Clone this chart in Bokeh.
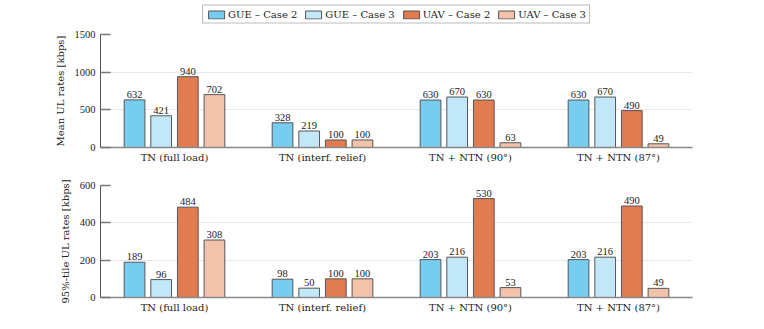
from bokeh.plotting import figure
from bokeh.models import (FactorRange, Range1d, Legend, LegendItem, FixedTicker,
                          ColumnDataSource)
from bokeh.transform import dodge
from bokeh.layouts import column
from bokeh.core.properties import value
from bokeh.embed import file_html
from bokeh.resources import INLINE

categories = ["TN (full load)", "TN (interf. relief)", "TN + NTN (90°)", "TN + NTN (87°)"]
series_names = ["GUE – Case 2", "GUE – Case 3", "UAV – Case 2", "UAV – Case 3"]

mean_gue_c2 = [632, 328, 630, 630]
mean_gue_c3 = [421, 219, 670, 670]
mean_uav_c2 = [940, 100, 630, 490]
mean_uav_c3 = [702, 100, 63, 49]

p95_gue_c2 = [189, 98, 203, 203]
p95_gue_c3 = [96, 50, 216, 216]
p95_uav_c2 = [484, 100, 530, 490]
p95_uav_c3 = [308, 100, 53, 49]

mean_ticks = [0, 500, 1000, 1500]
p95_ticks = [0, 200, 400, 600]

colors = ["#77CDF0", "#C2E7F8", "#E07C50", "#F2C2AB"]
offsets = [-0.27, -0.09, 0.09, 0.27]
WORD_FONT = "DejaVu Serif"
NUM_FONT = "Liberation Serif"
LEFT = 100
RIGHT = 10
WIDTH = LEFT + 592 + RIGHT


def make_fig(series, ymax, ticks, ylabel, height, top, bottom):
    p = figure(x_range=FactorRange(*categories, range_padding=0),
               y_range=Range1d(0, ymax),
               width=WIDTH, height=height,
               min_border_left=LEFT, min_border_right=RIGHT,
               min_border_top=top, min_border_bottom=bottom,
               output_backend="svg", toolbar_location=None)
    p.outline_line_color = None
    p.background_fill_color = "white"
    p.xgrid.grid_line_color = None
    p.ygrid.grid_line_color = "#e8e8e8"
    p.ygrid.grid_line_width = 1
    p.yaxis.ticker = FixedTicker(ticks=ticks)
    p.yaxis.axis_label = ylabel
    p.yaxis.axis_label_text_font = WORD_FONT
    p.yaxis.axis_label_text_font_size = "10px"
    p.yaxis.axis_label_text_font_style = "normal"
    p.yaxis.axis_label_text_color = "#222"
    p.yaxis.axis_label_standoff = 6
    p.yaxis.major_label_text_font = NUM_FONT
    p.yaxis.major_label_text_font_size = "10.5px"
    p.yaxis.major_label_text_color = "#222"
    p.yaxis.major_label_standoff = 5
    p.yaxis.major_tick_in = 10
    p.yaxis.major_tick_out = 0
    p.yaxis.major_tick_line_color = "#777"
    p.yaxis.major_tick_line_width = 1.5
    p.yaxis.minor_tick_line_color = None
    p.yaxis.axis_line_color = "#555"
    p.xaxis.axis_line_color = "#888"
    p.xaxis.axis_line_width = 1.5
    p.xaxis.major_tick_line_color = None
    p.xaxis.major_label_text_font = WORD_FONT
    p.xaxis.major_label_text_font_size = "10px"
    p.xaxis.major_label_text_color = "#222"
    p.xaxis.major_label_standoff = -2

    for i, vals in enumerate(series):
        src = ColumnDataSource(dict(cat=categories, val=vals,
                                    lab=[str(v) for v in vals]))
        p.vbar(x=dodge("cat", offsets[i], range=p.x_range), top="val",
               width=0.14, source=src, fill_color=colors[i],
               line_color="#555", line_width=1)
        p.text(x=dodge("cat", offsets[i], range=p.x_range), y="val", text="lab",
               source=src, text_align="center", text_baseline="bottom",
               y_offset=-2, text_font=value(NUM_FONT), text_font_size="10.5px",
               text_color="#222")
    return p


# legend strip (its bars sit outside the visible range; only the legend shows)
p0 = figure(width=WIDTH, height=28, x_range=Range1d(0, 1), y_range=Range1d(0, 1),
            min_border_left=LEFT, min_border_right=RIGHT, min_border_top=0,
            min_border_bottom=0, output_backend="svg", toolbar_location=None)
p0.axis.visible = False
p0.grid.visible = False
p0.outline_line_color = None
items = []
for i in range(4):
    r = p0.vbar(x=[-5], top=[0], width=0.1, fill_color=colors[i],
                line_color="#555", line_width=1)
    items.append(LegendItem(label=series_names[i], renderers=[r]))
lg = Legend(items=items, orientation="horizontal", location="center",
            glyph_width=20, glyph_height=10, label_height=10,
            label_standoff=2, spacing=6, padding=3, margin=0,
            label_text_font=WORD_FONT, label_text_font_size="10px",
            label_text_color="#222", border_line_color="#777",
            border_line_width=1, background_fill_alpha=1)
p0.add_layout(lg, "center")

p1 = make_fig([mean_gue_c2, mean_gue_c3, mean_uav_c2, mean_uav_c3], 1500,
              mean_ticks, "Mean UL rates [kbps]", 139, 6, 20)
p2 = make_fig([p95_gue_c2, p95_gue_c3, p95_uav_c2, p95_uav_c3], 600,
              p95_ticks, "95%-tile UL rates [kbps]", 155, 18, 25)

layout = column(p0, p1, p2, spacing=0)
open("out.html", "w").write(file_html(layout, INLINE))
